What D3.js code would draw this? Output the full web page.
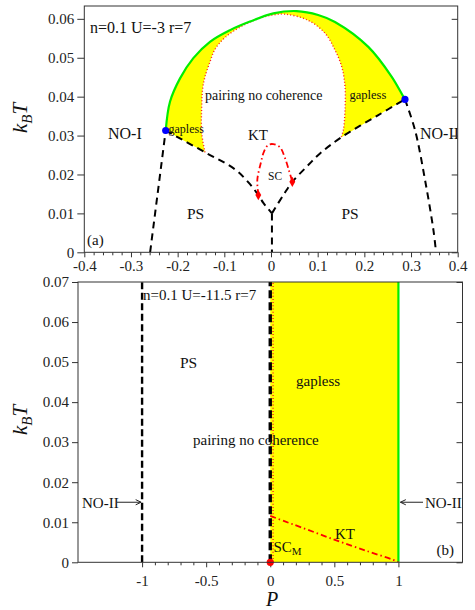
<!DOCTYPE html>
<html><head><meta charset="utf-8">
<script src="https://cdn.jsdelivr.net/npm/d3@7"></script>
<style>
body{margin:0;background:#fff;}
svg{display:block;font-family:"Liberation Serif","Times New Roman",serif;}
</style></head>
<body><svg id="c" width="475" height="610"></svg>
<script>
// ---------- Panel (a) data ----------
const aXTicks = [-0.4,-0.3,-0.2,-0.1,0,0.1,0.2,0.3,0.4];
const aXTickLabels = ["-0.4","-0.3","-0.2","-0.1","0","0.1","0.2","0.3","0.4"];
const aYTicks = [0,0.01,0.02,0.03,0.04,0.05,0.06];
const aYTickLabels = ["0","0.01","0.02","0.03","0.04","0.05","0.06"];
const greenA = [[-0.2256,0.0313],[-0.2164,0.0387],[-0.1949,0.0447],[-0.1664,0.0499],[-0.1308,0.0541],[-0.0878,0.0571],[-0.0451,0.0593],[0.005,0.0614],[0.055,0.0620],[0.101,0.0610],[0.137,0.0592],[0.2085,0.0528],[0.2587,0.0451],[0.2835,0.0400],[0.287,0.0393]];
const redDotA = [[-0.1414,0.0257],[-0.1484,0.0306],[-0.1484,0.0379],[-0.1463,0.0422],[-0.1414,0.0451],[-0.1306,0.0490],[-0.1199,0.0522],[-0.0985,0.0552],[-0.066,0.0579],[-0.03,0.0599],[0.0,0.0609],[0.03,0.0612],[0.08,0.0596],[0.1158,0.0563],[0.137,0.0520],[0.1515,0.0477],[0.1586,0.0426],[0.1586,0.0366],[0.155,0.0314],[0.150,0.0295]];
const dashLeftUpper = [[-0.2256,0.0313],[-0.1414,0.0257],[-0.077,0.0213],[-0.045,0.0175],[-0.0272,0.0147],[-0.0164,0.0127],[0.002,0.0100]];
const dashRightUpper = [[0.002,0.0100],[0.0264,0.0147],[0.0457,0.0181],[0.0765,0.0220],[0.105,0.0254],[0.150,0.0295],[0.229,0.0352],[0.287,0.0393]];
const dashCenter = [[0.002,0.0100],[0.002,0]];
const dashLeftOuter = [[-0.259,0],[-0.2256,0.0313]];
const dashRightOuter = [[0.287,0.0393],[0.3086,0.0314],[0.330,0.0186],[0.348,0.0057],[0.3536,0]];
const scDome = [[-0.0272,0.0147],[-0.0293,0.0186],[-0.022,0.0229],[-0.015,0.0259],[-0.0058,0.0276],[0.005,0.0278],[0.0193,0.0270],[0.030,0.0242],[0.0393,0.0207],[0.0457,0.0181]];
const bluePts = [[-0.2256,0.0313],[0.287,0.0393]];
const redDiamonds = [[-0.0272,0.0147],[0.0457,0.0181]];

// ---------- Panel (b) data ----------
const bXTicks = [-1,-0.5,0,0.5,1];
const bXTickLabels = ["-1","-0.5","0","0.5","1"];
const bYTicks = [0,0.01,0.02,0.03,0.04,0.05,0.06,0.07];
const bYTickLabels = ["0","0.01","0.02","0.03","0.04","0.05","0.06","0.07"];
const bYellowX = [0,1];
const bDashNeg = [[-1,0],[-1,0.07]];
const bDashZero = [[0,0],[0,0.07]];
const bRedDot = [[0.022,0],[0.022,0.07]];
const bGreen = [[1,0],[1,0.07]];
const bKT = [[0,0.0116],[0.115,0.0102],[0.245,0.0087],[0.505,0.0056],[0.765,0.0027],[0.96,0.0006],[1.0,0.0]];
const bRedPoint = [[0,0]];

const svg = d3.select("#c");
const AX = "#333";
const FONT = '"Liberation Serif","Times New Roman",serif';

function panel(o){
  const g = svg.append("g");
  const x = d3.scaleLinear().domain(o.xd).range(o.xr);
  const y = d3.scaleLinear().domain(o.yd).range(o.yr);
  const id = o.id;
  svg.append("clipPath").attr("id",id).append("rect")
    .attr("x",o.xr[0]).attr("y",o.yr[1]).attr("width",o.xr[1]-o.xr[0]).attr("height",o.yr[0]-o.yr[1]);
  const plot = g.append("g").attr("clip-path",`url(#${id})`);
  const ax = d3.axisBottom(x).tickValues(o.xt).tickFormat((d,i)=>o.xl[i]).tickSize(5).tickPadding(o.xpad);
  const gx = g.append("g").attr("transform",`translate(0,${o.yr[0]})`).call(ax);
  const axm = d3.axisBottom(x).tickValues(o.xminor).tickFormat("").tickSize(3);
  const gxm = g.append("g").attr("transform",`translate(0,${o.yr[0]})`).call(axm);
  const ay = d3.axisLeft(y).tickValues(o.yt).tickFormat((d,i)=>o.yl[i]).tickSize(o.ytick).tickPadding(3);
  const gy = g.append("g").attr("transform",`translate(${o.xr[0]},0)`).call(ay);
  const ayr = d3.axisLeft(y).tickValues(o.yt).tickFormat("").tickSize(6);
  const gyr = g.append("g").attr("transform",`translate(${o.xr[1]},0)`).call(ayr);
  [gx,gxm,gy,gyr].forEach(s=>{
    s.attr("font-family",FONT).attr("font-size",15);
    s.select(".domain").remove();
    s.selectAll("line").attr("stroke",AX);
    s.selectAll("text").attr("fill","#222");
  });
  return {g,plot,x,y};
}

function frame(p){
  const [x0,x1]=p.x.range(), [y0,y1]=p.y.range();
  p.g.append("rect").attr("x",x0).attr("y",y1).attr("width",x1-x0).attr("height",y0-y1)
    .attr("fill","none").attr("stroke",AX).attr("stroke-width",1);
}

function lineGen(p,curve){
  return d3.line().x(d=>p.x(d[0])).y(d=>p.y(d[1])).curve(curve||d3.curveCatmullRom.alpha(0.5));
}

function txt(g,x,y,s,size,opts){
  const t=g.append("text").attr("x",x).attr("y",y).attr("font-size",size).attr("fill","#111").text(s);
  if(opts&&opts.anchor) t.attr("text-anchor",opts.anchor);
  return t;
}

function kbt(cx,cy){
  const t=svg.append("text").attr("transform",`translate(${cx},${cy}) rotate(-90)`)
    .attr("text-anchor","middle").attr("font-size",21).attr("font-style","italic").attr("fill","#111");
  t.append("tspan").text("k");
  t.append("tspan").attr("font-size",15).attr("dy",5).text("B");
  t.append("tspan").attr("dy",-5).text("T");
}

// ================= Panel (a) =================
const xminorA = d3.range(-20,21).map(i=>i*0.02).filter(v=>Math.abs(Math.round(v*10)-v*10)>1e-6);
const A = panel({id:"clipA",xd:[-0.4,0.4],xr:[84.3,457.7],yd:[0,0.0633],yr:[252.3,6],
  xt:aXTicks,xl:aXTickLabels,yt:aYTicks,yl:aYTickLabels,xminor:xminorA,xpad:3,ytick:7});

{
  const lc = lineGen(A);
  const ll = lineGen(A,d3.curveLinear);
  const seg1 = lc(greenA);
  const seg2 = ll([[0.287,0.0393],[0.229,0.0352],[0.150,0.0295]]).replace(/^M/,"L");
  const seg3 = lc(redDotA.slice().reverse()).replace(/^M/,"L");
  const seg4 = ll([[-0.1414,0.0257],[-0.2256,0.0313]]).replace(/^M/,"L");
  A.plot.append("path").attr("d",seg1+seg2+seg3+seg4+"Z").attr("fill","#ffff00").attr("stroke","none");
}
[dashLeftUpper,dashRightUpper,dashCenter,dashLeftOuter,dashRightOuter].forEach(arr=>{
  A.plot.append("path").attr("d",lineGen(A)(arr)).attr("fill","none").attr("stroke","#000")
    .attr("stroke-width",2).attr("stroke-dasharray","7,5");
});
A.plot.append("path").attr("d",lineGen(A)(redDotA)).attr("fill","none").attr("stroke","#ff2020")
  .attr("stroke-width",1.4).attr("stroke-dasharray","1,2.2");
A.plot.append("path").attr("d",lineGen(A)(greenA)).attr("fill","none").attr("stroke","#00ee00").attr("stroke-width",2.2);
A.plot.append("path").attr("d",lineGen(A)(scDome)).attr("fill","none").attr("stroke","#ff0000")
  .attr("stroke-width",1.8).attr("stroke-dasharray","6,3,1.5,3");
A.plot.selectAll(".bd").data(bluePts).enter().append("circle")
  .attr("cx",d=>A.x(d[0])).attr("cy",d=>A.y(d[1])).attr("r",3.6).attr("fill","#0000ff");
A.plot.selectAll(".rd").data(redDiamonds).enter().append("path")
  .attr("d",d3.symbol().type(d3.symbolDiamond).size(30))
  .attr("transform",d=>`translate(${A.x(d[0])},${A.y(d[1])})`).attr("fill","#ff0000");
txt(A.plot,90,33,"n=0.1 U=-3 r=7",16);
txt(A.plot,205,100,"pairing no coherence",14);
txt(A.plot,168.5,133,"gapless",12);
txt(A.plot,349.5,99,"gapless",12.5);
txt(A.plot,108,139,"NO-I",16);
txt(A.plot,420,139,"NO-II",16);
txt(A.plot,248,140,"KT",15);
txt(A.plot,268,180,"SC",11.5);
txt(A.plot,187,219,"PS",15.5);
txt(A.plot,341.5,219,"PS",15.5);
txt(A.plot,87,245,"(a)",15);
frame(A);
kbt(27,118);

// ================= Panel (b) =================
const xminorB = d3.range(-10,11).map(i=>i*0.1).filter(v=>Math.abs(Math.round(v*2)-v*2)>1e-6);
const B = panel({id:"clipB",xd:[-1.5,1.5],xr:[78,462.5],yd:[0,0.07],yr:[562.3,282],
  xt:bXTicks,xl:bXTickLabels,yt:bYTicks,yl:bYTickLabels,xminor:xminorB,xpad:8,ytick:6});

B.plot.append("rect").attr("x",B.x(bYellowX[0])).attr("y",B.y(0.07))
  .attr("width",B.x(bYellowX[1])-B.x(bYellowX[0])).attr("height",B.y(0)-B.y(0.07)).attr("fill","#ffff00");
B.plot.append("path").attr("d",lineGen(B,d3.curveLinear)(bDashNeg)).attr("stroke","#000").attr("fill","none")
  .attr("stroke-width",2.4).attr("stroke-dasharray","7,3.5");
B.plot.append("path").attr("d",lineGen(B,d3.curveLinear)(bRedDot)).attr("stroke","#ff2020").attr("fill","none")
  .attr("stroke-width",1.4).attr("stroke-dasharray","1,2.2");
B.plot.append("path").attr("d",lineGen(B,d3.curveLinear)(bDashZero)).attr("stroke","#000").attr("fill","none")
  .attr("stroke-width",3.4).attr("stroke-dasharray","8,4");
B.plot.append("path").attr("d",lineGen(B,d3.curveLinear)(bGreen)).attr("stroke","#00ee00").attr("fill","none")
  .attr("stroke-width",2.2);
B.plot.append("path").attr("d",lineGen(B)(bKT)).attr("stroke","#ff0000").attr("fill","none")
  .attr("stroke-width",1.8).attr("stroke-dasharray","6,3,1.5,3");
B.g.selectAll(".rp").data(bRedPoint).enter().append("circle")
  .attr("cx",d=>B.x(d[0])).attr("cy",d=>B.y(d[1])).attr("r",3.6).attr("fill","#ff0000");

txt(B.plot,143,300,"n=0.1 U=-11.5 r=7",15);
txt(B.plot,180,367.5,"PS",15.5);
txt(B.plot,296,386,"gapless",15);
txt(B.plot,193,445,"pairing no coherence",15);
txt(B.plot,82,507.5,"NO-II",15);
txt(B.plot,425,507.5,"NO-II",15);
txt(B.plot,335,539,"KT",15);
{
  const t = txt(B.plot,273.5,551.5,"SC",15);
  t.append("tspan").attr("font-size",11).attr("dy",3).text("M");
}
txt(B.plot,436.5,555,"(b)",15);

function arrow(g,x1,y1,x2,y2){
  g.append("line").attr("x1",x1).attr("y1",y1).attr("x2",x2).attr("y2",y2).attr("stroke","#222").attr("stroke-width",1);
  const a=Math.atan2(y2-y1,x2-x1), L=6, w=0.45;
  const p1=[x2-L*Math.cos(a-w),y2-L*Math.sin(a-w)], p2=[x2-L*Math.cos(a+w),y2-L*Math.sin(a+w)];
  g.append("path").attr("d",`M${p1}L${x2},${y2}L${p2}`).attr("fill","none").attr("stroke","#222").attr("stroke-width",1);
}
const arrowY = B.y(0.015);
arrow(B.plot,117,arrowY,B.x(-1)-1,arrowY);
arrow(B.plot,423,arrowY,B.x(1)+2,arrowY);

frame(B);
kbt(27,420);
svg.append("text").attr("x",272).attr("y",606).attr("text-anchor","middle").attr("font-size",20)
  .attr("font-style","italic").attr("fill","#111").text("P");
</script></body></html>
